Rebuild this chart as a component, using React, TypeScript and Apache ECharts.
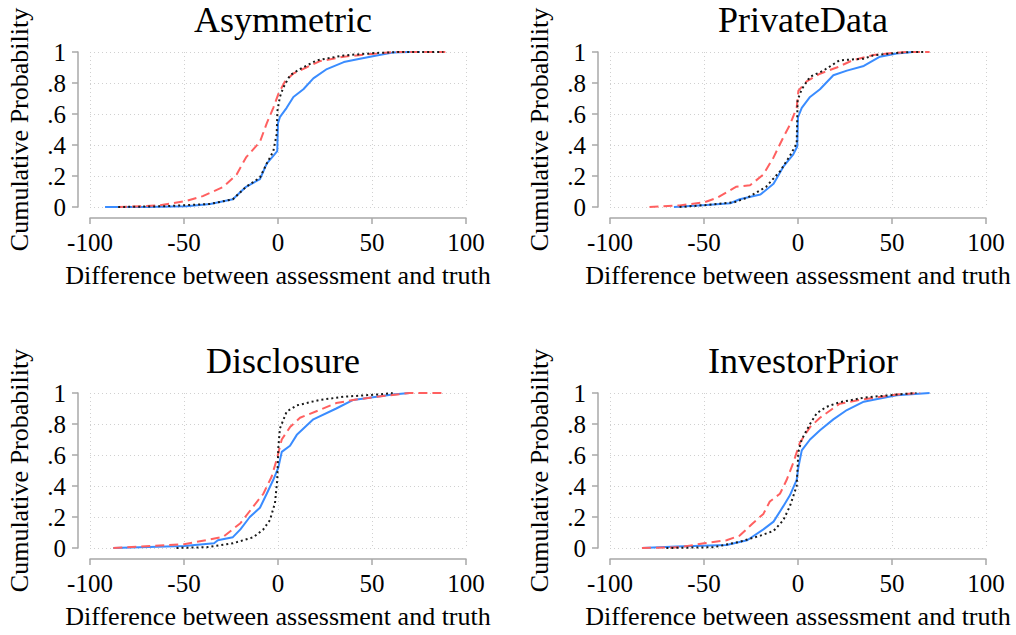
import React, { useEffect, useRef } from "react";
import * as echarts from "echarts";

const panelTitles = ["Asymmetric", "PrivateData", "Disclosure", "InvestorPrior"];
const xTicks = [-100, -50, 0, 50, 100];
const yTicks = [0, 0.2, 0.4, 0.6, 0.8, 1];
const xAxisTitle = "Difference between assessment and truth";
const yAxisTitle = "Cumulative Probability";

// Asymmetric
const asymBlue = [[-92, 0], [-70, 0], [-48.6, 0.005], [-36, 0.02], [-24, 0.05], [-17, 0.13], [-9.6, 0.18], [-6, 0.28], [-2.5, 0.33], [-0.4, 0.36], [0, 0.54], [1, 0.58], [4.6, 0.64], [8.2, 0.71], [13.5, 0.76], [18.8, 0.83], [26, 0.89], [35, 0.935], [43.6, 0.957], [52.5, 0.978], [61, 0.996], [70, 1], [75.5, 1]];
const asymRed = [[-85, 0], [-63, 0.01], [-48.6, 0.04], [-40, 0.07], [-29, 0.13], [-22, 0.21], [-17, 0.32], [-9.6, 0.42], [-6, 0.54], [-2.5, 0.64], [0.2, 0.73], [3.7, 0.81], [8, 0.86], [15, 0.9], [22, 0.94], [35, 0.97], [52.5, 0.99], [61, 1], [89, 1]];
const asymBlack = [[-85, 0], [-60, 0.005], [-36, 0.02], [-24, 0.05], [-17, 0.13], [-9.6, 0.19], [-6, 0.28], [-2.5, 0.36], [-0.7, 0.47], [-0.3, 0.62], [1, 0.71], [2.8, 0.77], [6.4, 0.85], [11.7, 0.89], [20.6, 0.946], [35, 0.978], [52.5, 0.994], [65, 1], [88, 1]];

// PrivateData
const privBlue = [[-66, 0], [-48.6, 0.013], [-36, 0.024], [-31, 0.05], [-20, 0.08], [-13, 0.15], [-7.8, 0.26], [-2.5, 0.34], [-0.4, 0.39], [0, 0.58], [2, 0.64], [6.4, 0.71], [11.7, 0.76], [18.8, 0.85], [26, 0.88], [35, 0.91], [43.6, 0.97], [52.5, 0.99], [61, 1]];
const privRed = [[-79, 0], [-63, 0.01], [-50, 0.03], [-43, 0.06], [-33, 0.13], [-25.5, 0.14], [-18.4, 0.21], [-13, 0.32], [-7.8, 0.45], [-4.3, 0.53], [-0.7, 0.64], [0.2, 0.75], [4.6, 0.81], [11.7, 0.86], [20.6, 0.9], [29, 0.946], [40, 0.98], [50.7, 0.994], [58, 1], [70, 1]];
const privBlack = [[-63, 0], [-48.6, 0.013], [-34, 0.03], [-27, 0.06], [-17, 0.13], [-9.6, 0.23], [-4.3, 0.33], [-0.7, 0.41], [-0.2, 0.69], [2, 0.76], [6.4, 0.84], [13.5, 0.88], [22, 0.946], [35, 0.957], [40, 0.978], [52.5, 0.994], [60, 1], [68, 1]];

// Disclosure
const discBlue = [[-87.6, 0], [-50, 0.013], [-34, 0.03], [-32, 0.05], [-24, 0.07], [-20, 0.12], [-15, 0.2], [-9.6, 0.26], [-6, 0.35], [-2.5, 0.44], [0.2, 0.52], [2, 0.62], [6.4, 0.66], [10, 0.73], [18.8, 0.83], [31, 0.9], [40, 0.955], [52.5, 0.976], [61, 0.99], [70, 1]];
const discRed = [[-87.6, 0], [-50, 0.024], [-36, 0.056], [-29, 0.073], [-20, 0.16], [-13, 0.27], [-7.8, 0.35], [-3.4, 0.46], [-0.7, 0.57], [2, 0.7], [6.4, 0.78], [11.7, 0.84], [22, 0.89], [31, 0.935], [40, 0.955], [52.5, 0.976], [70, 1], [89, 1]];
const discBlack = [[-54, 0], [-38, 0.005], [-24, 0.03], [-13, 0.07], [-7.8, 0.12], [-4.3, 0.18], [-1.6, 0.29], [-0.4, 0.44], [0.2, 0.65], [1, 0.77], [4.6, 0.88], [10, 0.92], [22, 0.955], [35, 0.976], [52.5, 0.99], [61, 1]];

// InvestorPrior
const invBlue = [[-83, 0], [-64.5, 0.01], [-38, 0.02], [-27, 0.05], [-18.4, 0.12], [-13, 0.17], [-7.8, 0.27], [-4.3, 0.34], [-0.7, 0.44], [0.2, 0.52], [2, 0.63], [6.4, 0.7], [11.7, 0.76], [18.8, 0.83], [26, 0.89], [35, 0.944], [43.6, 0.965], [52.5, 0.986], [70, 1]];
const invRed = [[-83, 0], [-63, 0.005], [-50, 0.03], [-38, 0.05], [-31, 0.08], [-24, 0.16], [-18.4, 0.22], [-15, 0.3], [-9.6, 0.35], [-6, 0.44], [-2.5, 0.55], [1, 0.68], [6.4, 0.78], [11.7, 0.84], [22, 0.93], [35, 0.96], [52.5, 0.99], [65, 1]];
const invBlack = [[-70, 0], [-45, 0.005], [-31, 0.04], [-20, 0.08], [-13, 0.11], [-7.8, 0.18], [-4.3, 0.27], [-0.7, 0.4], [0.2, 0.62], [2, 0.7], [6.4, 0.8], [10, 0.87], [15, 0.91], [22, 0.94], [35, 0.97], [52.5, 0.99], [63, 1]];

const blueSeries = [asymBlue, privBlue, discBlue, invBlue];
const redSeries = [asymRed, privRed, discRed, invRed];
const blackSeries = [asymBlack, privBlack, discBlack, invBlack];

const SERIF = "'Liberation Serif', 'Times New Roman', serif";

export default function App() {
  const ref = useRef<HTMLDivElement>(null);
  useEffect(() => {
    if (!ref.current) return;
    const chart = echarts.init(ref.current, undefined, { renderer: "svg" });
    const lefts = [90, 610, 90, 610];
    const tops = [52, 52, 393, 393];
    const grids = lefts.map((l, i) => ({ left: l, top: tops[i], width: 376, height: 155 }));
    const axisGray = "#a8a8a8";
    const gridStyle = { show: true, lineStyle: { color: "#d0d0d0", type: [1, 3] as any, width: 1 } };
    const xAxes = lefts.map((_, i) => ({
      type: "value",
      gridIndex: i,
      min: xTicks[0],
      max: xTicks[xTicks.length - 1],
      interval: 50,
      offset: 11,
      axisLine: { show: true, onZero: false, lineStyle: { color: axisGray, width: 1.5 } },
      axisTick: { show: true, inside: false, length: 6, lineStyle: { color: axisGray, width: 1.5 } },
      axisLabel: { color: "#000", fontFamily: SERIF, fontSize: 25, margin: 12 },
      splitLine: gridStyle,
      name: xAxisTitle,
      nameLocation: "middle",
      nameGap: 44,
      nameTextStyle: { color: "#000", fontFamily: SERIF, fontSize: 26 },
    }));
    const yAxes = lefts.map((_, i) => ({
      type: "value",
      gridIndex: i,
      min: yTicks[0],
      max: yTicks[yTicks.length - 1],
      interval: 0.2,
      offset: 12,
      axisLine: { show: true, onZero: false, lineStyle: { color: axisGray, width: 1.5 } },
      axisTick: { show: true, inside: false, length: 6, lineStyle: { color: axisGray, width: 1.5 } },
      axisLabel: {
        color: "#000",
        fontFamily: SERIF,
        fontSize: 25,
        margin: 12,
        formatter: (v: number) => (v === 0 ? "0" : v === 1 ? "1" : "." + Math.round(v * 10)),
      },
      splitLine: gridStyle,
      name: yAxisTitle,
      nameLocation: "middle",
      nameRotate: 90,
      nameGap: 46,
      nameTextStyle: { color: "#000", fontFamily: SERIF, fontSize: 26 },
    }));
    const titles = panelTitles.map((t, i) => ({
      text: t,
      left: lefts[i] + 188,
      top: tops[i] - 55,
      textAlign: "center",
      textStyle: { color: "#000", fontFamily: SERIF, fontSize: 36, fontWeight: "normal" },
    }));
    const series: any[] = [];
    for (let i = 0; i < 4; i++) {
      series.push({
        type: "line", xAxisIndex: i, yAxisIndex: i, data: blueSeries[i], showSymbol: false,
        lineStyle: { color: "#3a8cff", width: 2, type: "solid" }, z: 2,
      });
      series.push({
        type: "line", xAxisIndex: i, yAxisIndex: i, data: redSeries[i], showSymbol: false,
        lineStyle: { color: "#ff6060", width: 2, type: [9, 5] }, z: 3,
      });
      series.push({
        type: "line", xAxisIndex: i, yAxisIndex: i, data: blackSeries[i], showSymbol: false,
        lineStyle: { color: "#1a1a1a", width: 2, type: [2, 3] }, z: 4,
      });
    }
    chart.setOption({
      animation: false,
      backgroundColor: "#fff",
      title: titles,
      grid: grids,
      xAxis: xAxes,
      yAxis: yAxes,
      series,
    });
    return () => chart.dispose();
  }, []);
  return (
    <div
      ref={ref}
      style={{ position: "fixed", left: 0, top: 0, width: 1016, height: 635, background: "#fff" }}
    />
  );
}
